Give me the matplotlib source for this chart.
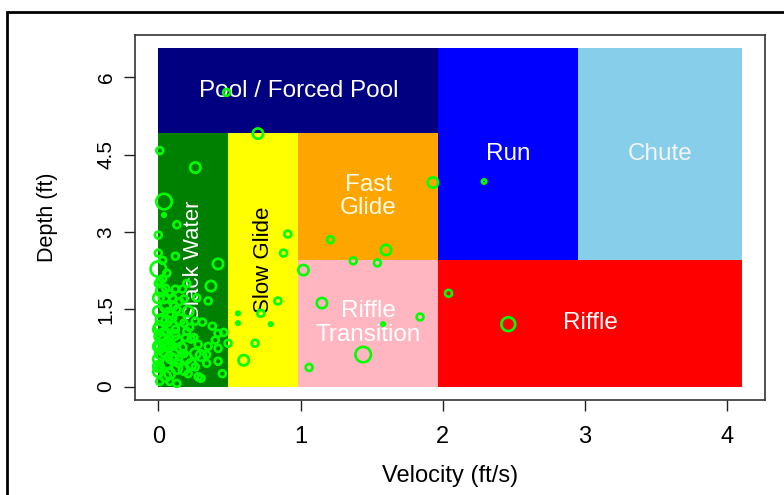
import matplotlib.pyplot as plt
from matplotlib.patches import Rectangle

plt.rcParams['font.family'] = ['Liberation Sans', 'DejaVu Sans']

# habitat classes: velocity (ft/s) and depth (ft) limits
hab_names = ["Pool / Forced Pool", "Slack Water", "Slow Glide", "Fast\nGlide",
             "Riffle\nTransition", "Run", "Chute", "Riffle"]
hab_vel = [(0, 1.969), (0, 0.492), (0.492, 0.984), (0.984, 1.969),
           (0.984, 1.969), (1.969, 2.953), (2.953, 4.101), (1.969, 4.101)]
hab_depth = [(4.921, 6.562), (0, 4.921), (0, 4.921), (2.461, 4.921),
             (0, 2.461), (2.461, 6.562), (2.461, 6.562), (0, 2.461)]
hab_colors = ["#000080", "#008000", "#ffff00", "#ffa500",
              "#ffb6c1", "#0000ff", "#87ceeb", "#ff0000"]
hab_text = ["white", "white", "black", "#fffbe6", "white", "white", "#f4f4f4", "white"]
hab_rot = [0, 90, 90, 0, 0, 0, 0, 0]

# observations (velocity, depth, relative size)
velocity = [0.48, 0.70, 0.01, 0.26, 0.04, 0.04, 0.13, 0.00, 0.00, 0.42,
            0.91, 0.88, 1.02, 1.93, 1.21, 1.60, 1.37, 1.54, 1.15, 1.84,
            1.58, 1.44, 1.06, 2.04, 2.46, 2.29,
            0.56, 0.56, 0.72, 0.79, 0.68, 0.60, 0.84, 0.49, 0.46, 0.42,
            0.30, 0.42,
            0.00, 0.12, 0.01, 0.05, 0.12, 0.17, 0.00, 0.04, 0.10, 0.18,
            0.00, 0.07, 0.13, 0.06, 0.18, 0.38, 0.42, 0.00, 0.01, 0.08,
            0.13, 0.23, 0.28, 0.35, 0.00, 0.04, 0.11, 0.18, 0.26, 0.34,
            0.00, 0.06, 0.14, 0.23, 0.18, 0.34, 0.00, 0.08, 0.28, 0.01,
            0.00, 0.13, 0.37, 0.27, 0.35, 0.11, 0.03, 0.01, 0.05, 0.10,
            0.03, 0.07, 0.01, 0.12, 0.20, 0.26, 0.21,
            0.02, 0.05, 0.09, 0.15, 0.03, 0.07, 0.11, 0.16, 0.02, 0.09,
            0.13, 0.05, 0.20, 0.22, 0.25, 0.30, 0.31, 0.15, 0.08, 0.02,
            0.00, 0.20, 0.06, 0.03, 0.10, 0.04, 0.01, 0.12, 0.19, 0.08,
            0.21, 0.26, 0.40, 0.45]
depth = [5.71, 4.91, 4.58, 4.25, 3.59, 3.33, 3.14, 2.94, 2.59, 2.38,
         2.96, 2.59, 2.26, 3.96, 2.85, 2.65, 2.44, 2.40, 1.62, 1.35,
         1.21, 0.62, 0.37, 1.81, 1.21, 3.98,
         1.42, 1.23, 1.42, 1.21, 0.84, 0.51, 1.66, 0.84, 1.05, 0.49,
         0.16, 0.74,
         2.28, 2.53, 2.05, 1.91, 1.89, 1.89, 1.72, 1.72, 1.72, 1.70,
         1.46, 1.42, 1.50, 1.27, 1.23, 1.17, 1.03, 1.11, 0.97, 0.94,
         0.88, 0.92, 0.82, 0.78, 0.78, 0.68, 0.62, 0.64, 0.64, 0.62,
         0.53, 0.45, 0.45, 0.43, 0.33, 0.45, 0.29, 0.25, 0.19, 0.10,
         0.39, 0.06, 1.95, 1.72, 1.66, 1.56, 2.09, 1.17, 1.07, 0.78,
         0.84, 0.58, 0.39, 1.11, 1.07, 1.27, 1.46,
         1.30, 1.55, 1.35, 1.30, 1.00, 0.80, 1.00, 0.75, 0.65, 0.55,
         0.35, 0.20, 0.55, 1.15, 0.95, 0.60, 1.25, 1.65, 1.80, 1.85,
         2.00, 2.00, 2.20, 2.45, 1.15, 0.90, 0.75, 0.70, 0.95, 0.10,
         0.25, 0.38, 0.90, 0.25]
cex = [0.8, 1.2, 0.8, 1.2, 1.8, 0.4, 0.8, 0.8, 0.8, 1.2,
       0.8, 0.8, 1.2, 1.2, 0.8, 1.2, 0.8, 0.8, 1.2, 0.8,
       0.4, 1.8, 0.8, 0.8, 1.6, 0.5,
       0.4, 0.4, 0.8, 0.4, 0.8, 1.2, 0.8, 0.8, 0.8, 0.8,
       0.8, 0.8,
       1.8, 0.8, 0.8, 0.8, 0.8, 0.8, 1.2, 1.2, 0.8, 0.8,
       1.2, 1.2, 0.8, 1.2, 0.8, 0.8, 0.8, 1.2, 1.2, 0.8,
       1.2, 0.8, 0.8, 0.8, 1.2, 1.2, 1.2, 0.8, 1.2, 0.8,
       1.2, 1.2, 0.8, 1.2, 1.2, 0.8, 1.2, 1.2, 0.8, 0.8,
       1.2, 0.8, 1.2, 0.8, 0.8, 0.8, 0.8, 1.2, 0.8, 0.8,
       0.8, 0.8, 0.8, 0.8, 0.8, 0.8, 1.2,
       1.2, 1.2, 1.2, 1.2, 1.4, 1.4, 1.2, 1.2, 1.4, 1.2,
       1.2, 1.2, 1.2, 0.8, 0.8, 1.2, 0.8, 0.8, 0.8, 1.2,
       0.8, 0.8, 0.8, 0.8, 1.4, 1.2, 1.2, 1.2, 0.8, 0.8,
       0.8, 0.8, 0.8, 0.8]

fig = plt.figure(figsize=(7.84, 4.95), dpi=100)
ax = fig.add_axes([0.1722, 0.1919, 0.8036, 0.7374])

for name, (v0, v1), (d0, d1), col, tcol, rot in zip(hab_names, hab_vel, hab_depth,
                                                   hab_colors, hab_text, hab_rot):
    ax.add_patch(Rectangle((v0, d0), v1 - v0, d1 - d0, facecolor=col,
                           edgecolor='none', zorder=1))
    ax.text((v0 + v1) / 2, (d0 + d1) / 2, name, color=tcol, rotation=rot,
            ha='center', va='center', fontsize=16 if rot else 17.5,
            linespacing=1.1, zorder=2)

ax.scatter(velocity, depth, s=[(c * 6.2) ** 2 for c in cex], facecolors='none',
           edgecolors='#00ff00', linewidths=1.9, zorder=3)

ax.set_xlim(-0.164, 4.265)
ax.set_ylim(-0.262, 6.824)
ax.set_xticks([0, 1, 2, 3, 4])
ax.set_yticks([0, 1.5, 3, 4.5, 6])
ax.set_yticklabels(["0", "1.5", "3", "4.5", "6"], rotation=90, va='center')
ax.tick_params(axis='both', length=8, width=1, color='#222222')
ax.tick_params(axis='x', pad=11, labelsize=17)
ax.tick_params(axis='y', pad=6, labelsize=15)
ax.set_xlabel("Velocity (ft/s)", fontsize=17, labelpad=12)
ax.set_ylabel("Depth (ft)", fontsize=15.5, labelpad=28)
for sp in ax.spines.values():
    sp.set_color('#333333')
    sp.set_linewidth(1.2)

# outer frame around the whole figure
fig.patches.append(Rectangle((0.0089, -0.05), 1.1, 1.026, transform=fig.transFigure,
                             fill=False, edgecolor='black', linewidth=2))

fig.savefig("out.png", dpi=100)
